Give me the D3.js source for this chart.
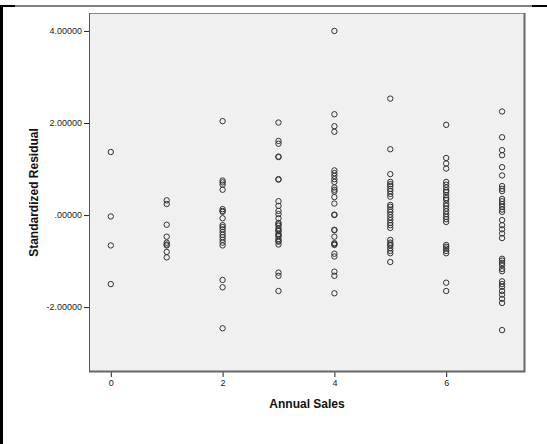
<!DOCTYPE html>
<html>
<head>
<meta charset="utf-8">
<script src="https://cdn.jsdelivr.net/npm/d3@7"></script>
<style>
  html, body { margin: 0; padding: 0; background: #fff; }
  svg { display: block; }
  text { font-family: "Liberation Sans", Arial, sans-serif; }
</style>
</head>
<body>
<svg id="chart" width="547" height="444"></svg>
<script>
// Standardized residuals grouped by annual sales level
const sales0 = [1.37, -0.03, -0.66, -1.50];
const sales1 = [0.32, 0.24, -0.21, -0.47, -0.60, -0.64, -0.66, -0.80, -0.92];
const sales2 = [2.04, 0.75, 0.71, 0.66, 0.55, 0.13, 0.09, 0.07, -0.07, -0.22, -0.26, -0.31,
                -0.37, -0.43, -0.48, -0.54, -0.60, -0.66, -1.41, -1.57, -2.46];
const sales3 = [2.01, 1.61, 1.55, 1.27, 1.26, 0.78, 0.77, 0.30, 0.20, 0.09, 0.02, -0.07,
                -0.17, -0.20, -0.23, -0.29, -0.33, -0.35, -0.41, -0.44, -0.46, -0.52, -0.56,
                -0.58, -0.64, -1.25, -1.32, -1.65];
const sales4 = [4.00, 2.19, 1.93, 1.81, 0.97, 0.91, 0.85, 0.78, 0.72, 0.60, 0.55, 0.51, 0.39,
                0.25, 0.01, 0.00, -0.32, -0.33, -0.47, -0.61, -0.63, -0.65, -0.84, -0.90,
                -1.23, -1.32, -1.70];
const sales5 = [2.53, 1.43, 0.89, 0.72, 0.67, 0.63, 0.57, 0.52, 0.46, 0.40, 0.22, 0.18, 0.12,
                0.07, 0.01, -0.05, -0.11, -0.17, -0.22, -0.28, -0.54, -0.60, -0.64, -0.66,
                -0.72, -0.78, -0.83, -1.02];
const sales6 = [1.96, 1.24, 1.12, 1.01, 0.72, 0.66, 0.60, 0.54, 0.50, 0.43, 0.37, 0.33, 0.25,
                0.20, 0.14, 0.08, 0.02, -0.04, -0.09, -0.15, -0.65, -0.69, -0.73, -0.78,
                -0.83, -1.47, -1.65];
const sales7 = [2.25, 1.69, 1.41, 1.30, 1.04, 0.86, 0.63, 0.57, 0.52, 0.35, 0.30, 0.24, 0.18,
                0.12, 0.07, -0.11, -0.22, -0.31, -0.40, -0.50, -0.95, -0.99, -1.04, -1.09,
                -1.17, -1.22, -1.44, -1.50, -1.56, -1.65, -1.73, -1.82, -1.91, -2.50];

const salesLevels = [0, 1, 2, 3, 4, 5, 6, 7];
const residualsByLevel = [sales0, sales1, sales2, sales3, sales4, sales5, sales6, sales7];

const xTicks = [0, 2, 4, 6];
const yTicks = [-2, 0, 2, 4];
const yTickLabels = ["-2.00000", ".00000", "2.00000", "4.00000"];

const xTitle = "Annual Sales";
const yTitle = "Standardized Residual";

const points = [];
salesLevels.forEach((lvl, i) => {
  residualsByLevel[i].forEach(v => points.push({ x: lvl, y: v }));
});

const svg = d3.select("#chart");

// page frame edges
svg.append("rect").attr("x", 0).attr("y", 5).attr("width", 3).attr("height", 439).attr("fill", "#000");
svg.append("line").attr("x1", 0).attr("x2", 547).attr("y1", 6).attr("y2", 6)
  .attr("stroke", "#000").attr("stroke-width", 1);
svg.append("rect").attr("x", 0).attr("y", 5).attr("width", 15).attr("height", 2).attr("fill", "#000");
svg.append("rect").attr("x", 532).attr("y", 5).attr("width", 15).attr("height", 2).attr("fill", "#000");

const plot = { left: 89, right: 525, top: 13, bottom: 372 };

const x = d3.scaleLinear().domain([-0.39, 7.41]).range([plot.left, plot.right]);
const y = d3.scaleLinear().domain([-3.41, 4.39]).range([plot.bottom, plot.top]);

// plot background
svg.append("rect")
  .attr("x", plot.left).attr("y", plot.top)
  .attr("width", plot.right - plot.left).attr("height", plot.bottom - plot.top)
  .attr("fill", "#f0f0f0");

// axes
const xAxis = d3.axisBottom(x).tickValues(xTicks).tickSize(5).tickPadding(3).tickFormat(d3.format("d"));
const gx = svg.append("g").attr("transform", `translate(0,${plot.bottom})`).call(xAxis);
gx.select(".domain").remove();
gx.selectAll("line").attr("stroke", "#222");
gx.selectAll("text").attr("font-size", 9).attr("fill", "#222")
  .attr("font-family", "'Liberation Sans', Arial, sans-serif");

const yAxis = d3.axisLeft(y).tickValues(yTicks).tickSize(5).tickPadding(2)
  .tickFormat(d => yTickLabels[yTicks.indexOf(d)]);
const gy = svg.append("g").attr("transform", `translate(${plot.left},0)`).call(yAxis);
gy.select(".domain").remove();
gy.selectAll("line").attr("stroke", "#222");
gy.selectAll("text").attr("font-size", 9).attr("fill", "#222")
  .attr("font-family", "'Liberation Sans', Arial, sans-serif");

// plot border with darker right/bottom edges
svg.append("rect")
  .attr("x", plot.left + 0.5).attr("y", plot.top + 0.5)
  .attr("width", plot.right - plot.left - 1).attr("height", plot.bottom - plot.top - 1)
  .attr("fill", "none").attr("stroke", "#8a8a8a").attr("stroke-width", 1);
svg.append("line").attr("x1", plot.left + 0.5).attr("x2", plot.left + 0.5)
  .attr("y1", plot.top).attr("y2", plot.bottom).attr("stroke", "#555");
svg.append("path")
  .attr("d", `M${plot.left},${plot.bottom - 0.5}H${plot.right - 0.5}V${plot.top}`)
  .attr("fill", "none").attr("stroke", "#666").attr("stroke-width", 2);

// residual markers
svg.append("g").selectAll("circle")
  .data(points)
  .join("circle")
  .attr("cx", d => x(d.x))
  .attr("cy", d => y(d.y))
  .attr("r", 2.7)
  .attr("fill", "none")
  .attr("stroke", "#333")
  .attr("stroke-width", 1);

// axis titles
svg.append("text")
  .attr("x", (plot.left + plot.right) / 2).attr("y", 408)
  .attr("text-anchor", "middle").attr("font-size", 12).attr("font-weight", "bold")
  .attr("fill", "#111").text(xTitle);

svg.append("text")
  .attr("transform", `translate(38,${(plot.top + plot.bottom) / 2}) rotate(-90)`)
  .attr("text-anchor", "middle").attr("font-size", 12).attr("font-weight", "bold")
  .attr("fill", "#111").text(yTitle);
</script>
</body>
</html>
